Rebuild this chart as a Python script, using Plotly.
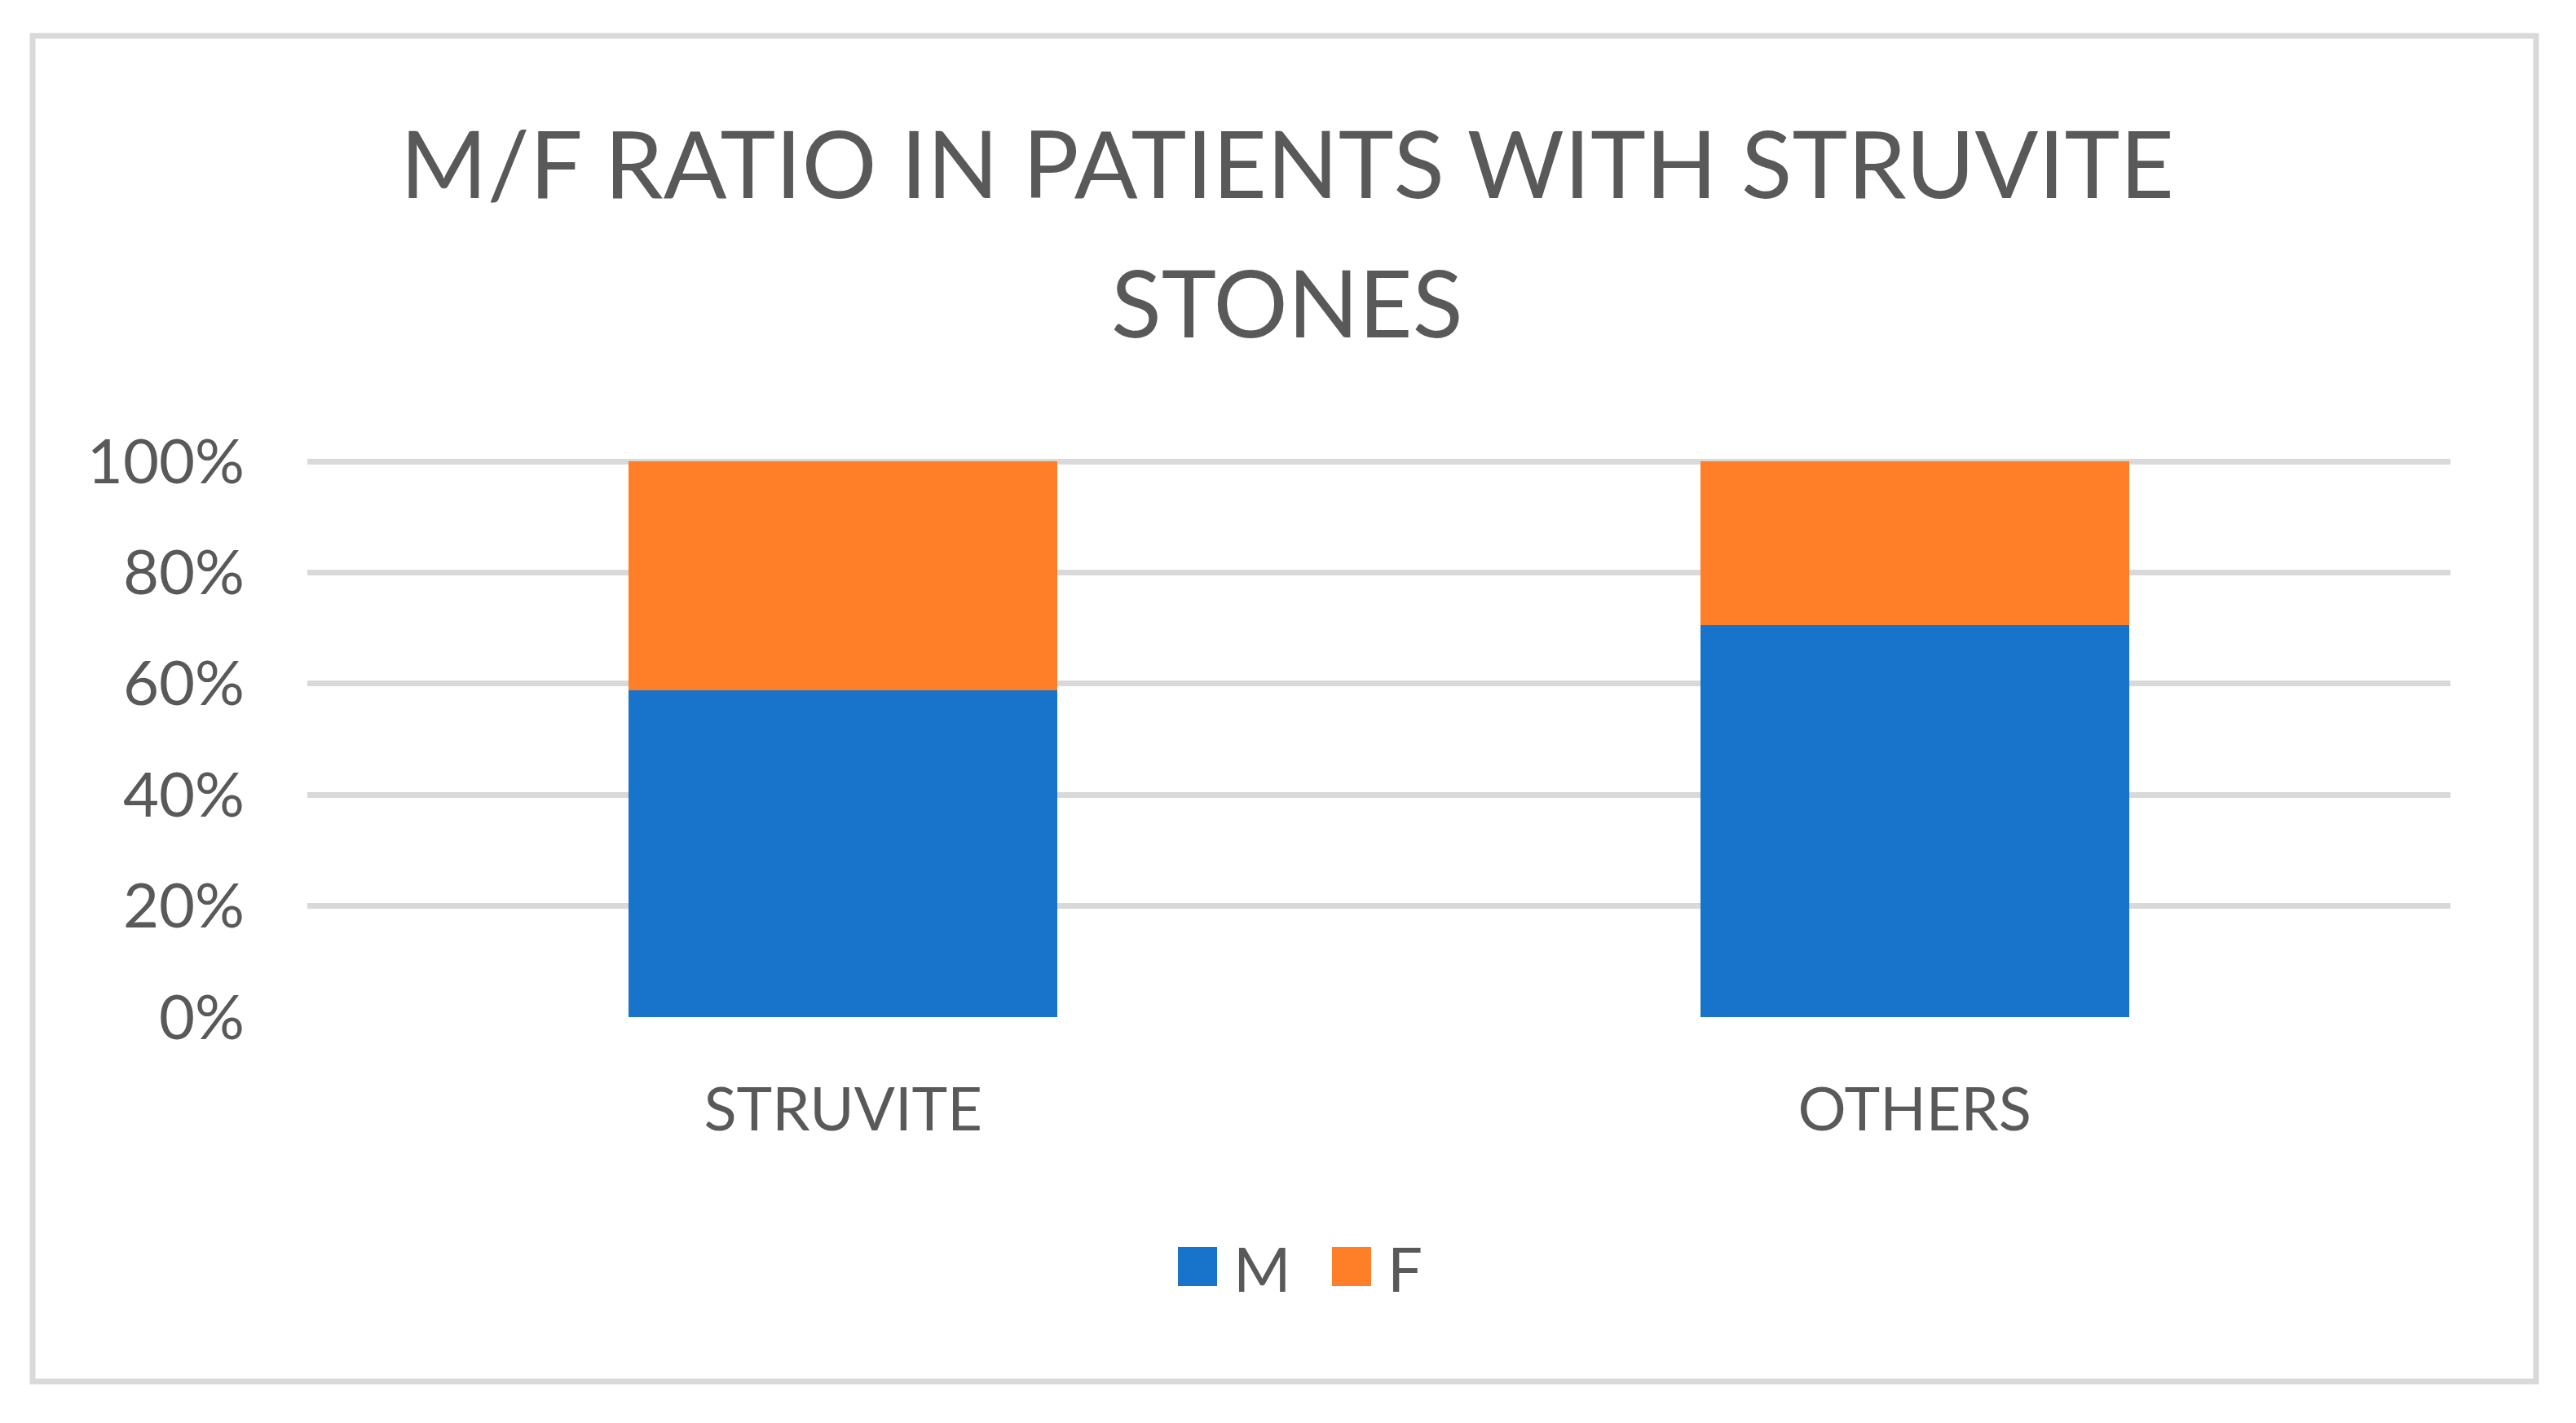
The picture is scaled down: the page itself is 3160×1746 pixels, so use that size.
import plotly.graph_objects as go

# ---- data ----
categories = ["STRUVITE", "OTHERS"]
male_pct = [58.8, 70.5]
female_pct = [41.2, 29.5]
y_ticks = [0, 20, 40, 60, 80, 100]
y_tick_labels = ["0%", "20%", "40%", "60%", "80%", "100%"]
series_names = ["M", "F"]
title_line1 = "M/F RATIO IN PATIENTS WITH STRUVITE"
title_line2 = "STONES"

# ---- style / layout (pixel positions in reference-image coordinates) ----
SCREEN_W, SCREEN_H = 3160, 1746
OFF = 8                       # default page body margin
W, H = SCREEN_W - 2 * OFF, SCREEN_H - 2 * OFF
Y_TOP = 100.3                 # a hair above 100 so the 100% gridline is drawn
REF_L, REF_R, REF_Y100, REF_Y0 = 377, 3006, 566, 1248
REF_T = REF_Y0 - (REF_Y0 - REF_Y100) * Y_TOP / 100.0
PL, PR, PT, PB = REF_L - OFF, REF_R - OFF, REF_T - OFF, REF_Y0 - OFF
BLUE = "#1874CB"
ORANGE = "#FE7F27"
GRID = "#D9D9D9"
TXT = "#595959"
FONT = "Lato"


def px_x(p):
    return (p - OFF - PL) / (PR - PL)


def px_y(p):
    return (PB - (p - OFF)) / (PB - PT)


fig = go.Figure()
fig.add_trace(go.Bar(x=categories, y=male_pct, name=series_names[0],
                     marker=dict(color=BLUE, line=dict(width=0)), showlegend=False))
fig.add_trace(go.Bar(x=categories, y=female_pct, name=series_names[1],
                     marker=dict(color=ORANGE, line=dict(width=0)), showlegend=False))

shapes = [
    dict(type="rect", xref="paper", yref="paper",
         x0=px_x(40), x1=px_x(3111), y0=px_y(1695), y1=px_y(44),
         line=dict(color=GRID, width=7), fillcolor="rgba(0,0,0,0)", layer="below"),
]
annotations = [
    dict(text=title_line2, xref="paper", yref="paper", x=px_x(1579), y=px_y(369),
         xanchor="center", yanchor="middle", showarrow=False,
         font=dict(family=FONT, size=114, color=TXT)),
]

# custom legend with large square swatches
legend_items = [(series_names[0], BLUE, 1445, 1511), (series_names[1], ORANGE, 1634, 1700)]
for name, col, sx, tx in legend_items:
    shapes.append(dict(type="rect", xref="paper", yref="paper",
                       x0=px_x(sx), x1=px_x(sx + 48), y0=px_y(1578), y1=px_y(1530),
                       line=dict(width=0), fillcolor=col))
    annotations.append(dict(text=name, xref="paper", yref="paper", x=px_x(tx), y=px_y(1556),
                            xanchor="left", yanchor="middle", showarrow=False,
                            font=dict(family=FONT, size=76, color=TXT)))

fig.update_layout(
    width=W, height=H,
    barmode="stack", bargap=0.6,
    paper_bgcolor="white", plot_bgcolor="white",
    margin=dict(l=PL, r=W - PR, t=PT, b=H - PB, autoexpand=False),
    font=dict(family=FONT, color=TXT),
    title=dict(text=title_line1, x=(1579 - OFF) / W, xanchor="center", xref="container",
               y=1 - (203 - OFF) / H, yanchor="middle", yref="container",
               font=dict(family=FONT, size=115, color=TXT)),
    showlegend=False,
    shapes=shapes,
    annotations=annotations,
    xaxis=dict(showgrid=False, showline=False, zeroline=False, ticks="",
               tickfont=dict(family=FONT, size=74, color=TXT), ticklabelstandoff=64),
    yaxis=dict(range=[0, Y_TOP], tickmode="array", tickvals=y_ticks, ticktext=y_tick_labels,
               showgrid=True, gridcolor=GRID, gridwidth=7, zeroline=False, showline=False,
               ticks="", tickfont=dict(family=FONT, size=76, color=TXT), ticklabelstandoff=76),
)

fig.write_html("out.html")
